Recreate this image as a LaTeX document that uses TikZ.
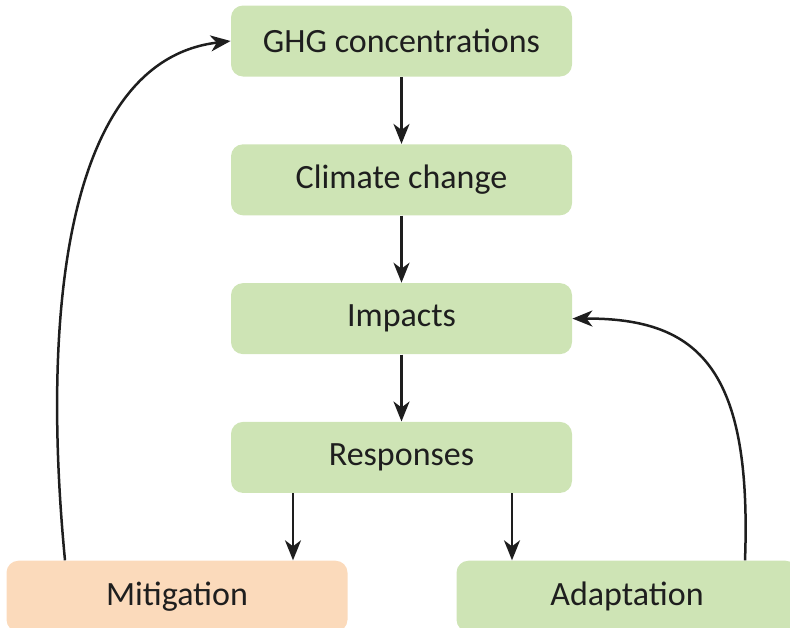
\documentclass[tikz,border=0pt]{standalone}
\usepackage{fontspec}
\setmainfont{Carlito}
\usepackage{tikz}
\usetikzlibrary{arrows.meta,positioning}

\definecolor{boxgreen}{RGB}{206,228,181}
\definecolor{boxorange}{RGB}{251,218,187}
\definecolor{inkgray}{RGB}{30,30,30}

\begin{document}
\begin{tikzpicture}[
  x=0.5pt, y=-0.5pt,
  node distance=33.5pt,
  stage/.style={rectangle, fill=boxgreen, rounded corners=6pt, text=inkgray,
                font=\fontsize{17}{20}\selectfont, minimum width=170.5pt,
                minimum height=35.5pt, inner sep=0pt},
  option/.style={stage, fill=boxorange},
  arr/.style={-{Stealth[length=10pt, width=8pt, inset=3pt]}, line width=1.25pt, inkgray}
]
\useasboundingbox (0,0) rectangle (790,627);

\node[stage] (ghg) at (401.5,41) {GHG concentrations};
\node[stage, below=of ghg] (clim) {Climate change};
\node[stage, below=of clim] (imp) {Impacts};
\node[stage, below=of imp] (resp) {Responses};
\node[option, below=33.5pt of resp, xshift=-112.25pt] (mit) {Mitigation};
\node[stage, below=33.5pt of resp, xshift=112.75pt] (adap) {Adaptation};

\draw[arr] (ghg) -- (clim);
\draw[arr] (clim) -- (imp);
\draw[arr] (imp) -- (resp);
\draw[arr] (resp.south -| 293,0) -- (mit.north -| 293,0);
\draw[arr] (resp.south -| 512,0) -- (adap.north -| 512,0);

% feedback loops
\draw[arr] (mit.north -| 65,0) .. controls (40,300) and (70,60) .. (ghg.west);
\draw[arr] (adap.north -| 745,0) .. controls (752,370) and (700,318) .. (imp.east);
\end{tikzpicture}
\end{document}
